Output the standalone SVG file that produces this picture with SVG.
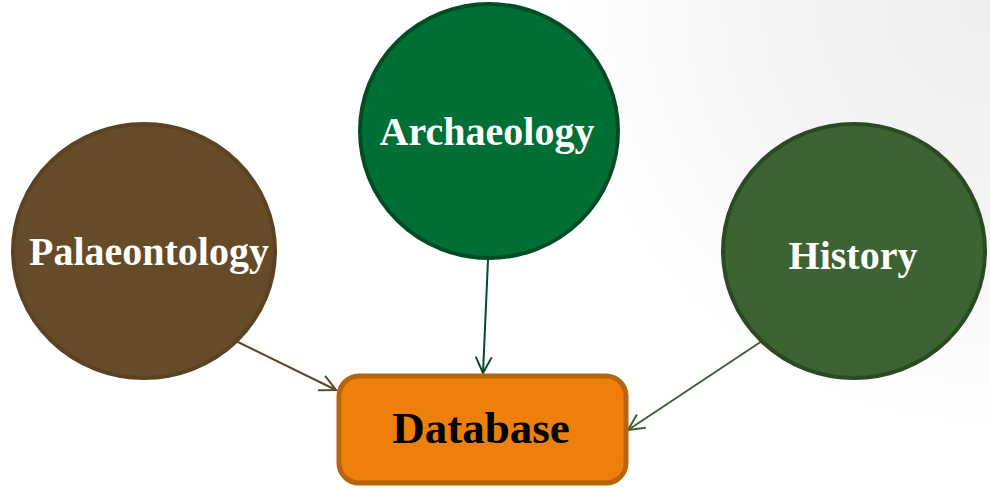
<svg xmlns="http://www.w3.org/2000/svg" width="990" height="489" viewBox="0 0 990 489">
<defs>
<radialGradient id="bg" cx="990" cy="0" r="420" gradientUnits="userSpaceOnUse">
<stop offset="0" stop-color="#eeeeee"/>
<stop offset="0.5" stop-color="#f4f4f4"/>
<stop offset="1" stop-color="#ffffff"/>
</radialGradient>
<marker id="ab" viewBox="0 0 20 20" refX="18" refY="10" markerWidth="20" markerHeight="20" markerUnits="userSpaceOnUse" orient="auto"><path d="M2,2 L18,10 L2,18" fill="none" stroke="#5e4628" stroke-width="2"/></marker>
<marker id="ag" viewBox="0 0 20 20" refX="18" refY="10" markerWidth="20" markerHeight="20" markerUnits="userSpaceOnUse" orient="auto"><path d="M2,2 L18,10 L2,18" fill="none" stroke="#004d25" stroke-width="2"/></marker>
<marker id="ah" viewBox="0 0 20 20" refX="18" refY="10" markerWidth="20" markerHeight="20" markerUnits="userSpaceOnUse" orient="auto"><path d="M2,2 L18,10 L2,18" fill="none" stroke="#3c6331" stroke-width="2"/></marker>
</defs>
<style>
.lbl{font-family:"Liberation Serif","DejaVu Serif",serif;font-weight:bold;text-anchor:middle}
.w{fill:#ffffff;font-size:40px}
.conn{fill:none;stroke-width:2}
</style>
<rect width="990" height="489" fill="url(#bg)"/>
<g id="connectors">
<line class="conn" x1="236" y1="341" x2="336" y2="390" stroke="#5e4628" marker-end="url(#ab)"/>
<line class="conn" x1="488" y1="260" x2="483" y2="373" stroke="#004d25" marker-end="url(#ag)"/>
<line class="conn" x1="762" y1="341" x2="628" y2="430" stroke="#3c6331" marker-end="url(#ah)"/>
</g>
<g id="archaeology">
<ellipse cx="489" cy="131" rx="129" ry="127" fill="#006f35" stroke="#004d25" stroke-width="4"/>
<text class="lbl w" x="487" y="145">Archaeology</text>
</g>
<g id="palaeontology">
<ellipse cx="144" cy="251" rx="131" ry="127" fill="#654b27" stroke="#5a4222" stroke-width="4"/>
<text class="lbl w" x="149" y="265">Palaeontology</text>
</g>
<g id="history">
<ellipse cx="854" cy="251" rx="131" ry="127" fill="#3c6331" stroke="#2b4a24" stroke-width="4"/>
<text class="lbl w" x="853" y="269">History</text>
</g>
<g id="database">
<rect x="339" y="376" width="287" height="107" rx="20" ry="20" fill="#ee7f0b" stroke="#b8640a" stroke-width="5"/>
<text class="lbl" x="481" y="443" font-size="45" fill="#000000">Database</text>
</g>
</svg>
